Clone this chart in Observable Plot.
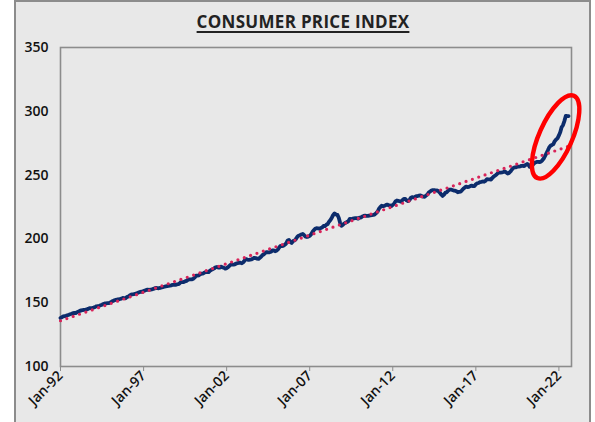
<!DOCTYPE html>
<html><head><meta charset="utf-8">
<script src="https://cdn.jsdelivr.net/npm/d3@7"></script>
<script src="https://cdn.jsdelivr.net/npm/@observablehq/plot@0.6"></script>
<style>
html,body{margin:0;padding:0;background:#fff;width:595px;height:422px;overflow:hidden;}
#frame{position:absolute;left:14px;top:0;width:577px;height:440px;box-sizing:border-box;border:2px solid #8c8c8c;background:#e8e8e8;}
#title{position:absolute;left:0;top:10px;width:606px;text-align:center;font-family:"Open Sans",sans-serif;font-weight:700;font-size:17px;color:#222;text-decoration:underline;text-decoration-thickness:1.5px;text-underline-offset:3px;letter-spacing:0.3px;}
#chart{position:absolute;left:0;top:30px;}
</style></head>
<body>
<div id="frame"></div>
<div id="title">CONSUMER PRICE INDEX</div>
<div id="chart"></div>
<script>
// Monthly CPI values, starting January 1992
const firstMonth = "1992-01-01";
const cpi = [
  138.1,138.6,139.3,139.5,139.7,140.2,140.5,140.9,141.3,141.8,142.0,141.9, // 1992
  142.6,143.1,143.6,144.0,144.2,144.4,144.4,144.8,145.1,145.7,145.8,145.8, // 1993
  146.2,146.7,147.2,147.4,147.5,148.0,148.4,149.0,149.4,149.5,149.7,149.7, // 1994
  150.3,150.9,151.4,151.9,152.2,152.5,152.5,152.9,153.2,153.7,153.6,153.5, // 1995
  154.4,154.9,155.7,156.3,156.6,156.7,157.0,157.3,157.8,158.3,158.6,158.6, // 1996
  159.1,159.6,160.0,160.2,160.1,160.3,160.5,160.8,161.2,161.6,161.5,161.3, // 1997
  161.6,161.9,162.2,162.5,162.8,163.0,163.2,163.4,163.6,164.0,164.0,163.9, // 1998
  164.3,164.5,165.0,166.2,166.2,166.2,166.7,167.1,167.9,168.2,168.3,168.3, // 1999
  168.8,169.8,171.2,171.3,171.5,172.4,172.8,172.8,173.7,174.0,174.1,174.0, // 2000
  175.1,175.8,176.2,176.9,177.7,178.0,177.5,177.5,178.3,177.7,177.4,176.7, // 2001
  177.1,177.8,178.8,179.8,179.8,179.9,180.1,180.7,181.0,181.3,181.3,180.9, // 2002
  181.7,183.1,184.2,183.8,183.5,183.7,183.9,184.6,185.2,185.0,184.5,184.3, // 2003
  185.2,186.2,187.4,188.0,189.1,189.7,189.4,189.5,189.9,190.9,191.0,190.3, // 2004
  190.7,191.8,193.3,194.6,194.4,194.5,195.4,196.4,198.8,199.2,197.6,196.8, // 2005
  198.3,198.7,199.8,201.5,202.5,202.9,203.5,203.9,202.9,201.8,201.5,201.8, // 2006
  202.4,203.5,205.4,206.7,207.9,208.4,208.3,207.9,208.5,208.9,210.2,210.0, // 2007
  211.1,211.7,213.5,214.8,216.6,218.8,220.0,219.1,218.8,216.6,212.4,210.2, // 2008
  211.1,212.2,212.7,213.2,213.9,215.7,215.4,215.8,216.0,216.2,216.3,215.9, // 2009
  216.7,216.7,217.6,218.0,218.2,218.0,218.0,218.3,218.4,218.7,218.8,219.2, // 2010
  220.2,221.3,223.5,224.9,226.0,225.7,225.9,226.5,226.9,226.4,226.2,225.7, // 2011
  226.7,227.7,229.4,230.1,229.8,229.5,229.1,230.4,231.4,231.3,230.2,229.6, // 2012
  230.3,232.2,232.8,232.5,232.9,233.5,233.6,233.9,234.1,233.5,233.1,233.0, // 2013
  233.9,234.8,236.3,237.1,237.9,238.3,238.3,237.9,238.0,237.4,236.2,234.8, // 2014
  233.7,234.7,236.1,236.6,237.8,238.6,238.7,238.3,237.9,237.8,237.3,236.5, // 2015
  236.9,237.1,238.1,239.3,240.2,241.0,240.6,240.8,241.4,241.7,241.4,241.4, // 2016
  242.8,243.6,243.8,244.5,244.7,245.0,244.8,245.5,246.8,246.7,246.7,246.5, // 2017
  247.9,249.0,249.6,250.5,251.6,252.0,252.0,252.1,252.4,252.9,252.0,251.2, // 2018
  251.7,252.8,254.2,255.5,256.1,256.1,256.6,256.6,256.8,257.3,257.2,257.0, // 2019
  258.0,258.7,258.1,256.4,256.4,257.8,259.1,259.9,260.3,260.4,260.2,260.5, // 2020
  261.6,263.0,264.9,267.1,269.2,271.7,273.0,273.6,274.3,276.6,277.9,278.8, // 2021
  281.1,283.7,287.5,289.1,292.3,296.3,296.3,296.2                          // 2022
];
const yTicks = [100, 150, 200, 250, 300, 350];
const xTickLabels = ["Jan-92","Jan-97","Jan-02","Jan-07","Jan-12","Jan-17","Jan-22"];
const xDomain = ["1992-01-01", "2022-10-05"];
const highlight = {date: "2021-11-01", value: 279.5}; // circled surge

const parseLabel = d3.utcParse("%b-%y");
const start = new Date(firstMonth);
const data = cpi.map((v, i) => ({date: d3.utcMonth.offset(start, i), value: v}));

const ellipseMark = (index, scales) => {
  const cx = scales.x(new Date(highlight.date));
  const cy = scales.y(highlight.value);
  return d3.create("svg:ellipse")
    .attr("cx", cx).attr("cy", cy)
    .attr("rx", 16.5).attr("ry", 45)
    .attr("transform", `rotate(24 ${cx} ${cy})`)
    .attr("fill", "none").attr("stroke", "#ff0000").attr("stroke-width", 4.4)
    .node();
};

const chart = Plot.plot({
  width: 595,
  height: 392,
  marginLeft: 60,
  marginRight: 24,
  marginTop: 17,
  marginBottom: 56,
  style: {background: "transparent", fontFamily: "'Open Sans', sans-serif", fontSize: "14px", fontWeight: 600, color: "#111", overflow: "visible"},
  x: {
    type: "utc",
    domain: xDomain.map(d => new Date(d)),
    label: null
  },
  y: {
    domain: [100, 350],
    label: null
  },
  marks: [
    Plot.frame({stroke: "#8c8c8c", strokeWidth: 1.6}),
    Plot.axisX({ticks: xTickLabels.map(parseLabel), tickFormat: d3.utcFormat("%b-%y"), tickRotate: -45, tickSize: 5, tickPadding: 2, stroke: "#8c8c8c", label: null}),
    Plot.axisY({ticks: yTicks, tickSize: 0, tickPadding: 12, label: null}),
    Plot.line(data, {x: "date", y: "value", stroke: "#0c2c6c", strokeWidth: 3.8, strokeLinejoin: "round", strokeLinecap: "round"}),
    Plot.linearRegressionY(data, {x: "date", y: "value", ci: 0, stroke: "#d8245a", strokeWidth: 3.2, strokeDasharray: "0 6.7", strokeLinecap: "round", strokeOpacity: 1}),
    ellipseMark
  ]
});
document.getElementById("chart").appendChild(chart);
</script>
</body></html>
